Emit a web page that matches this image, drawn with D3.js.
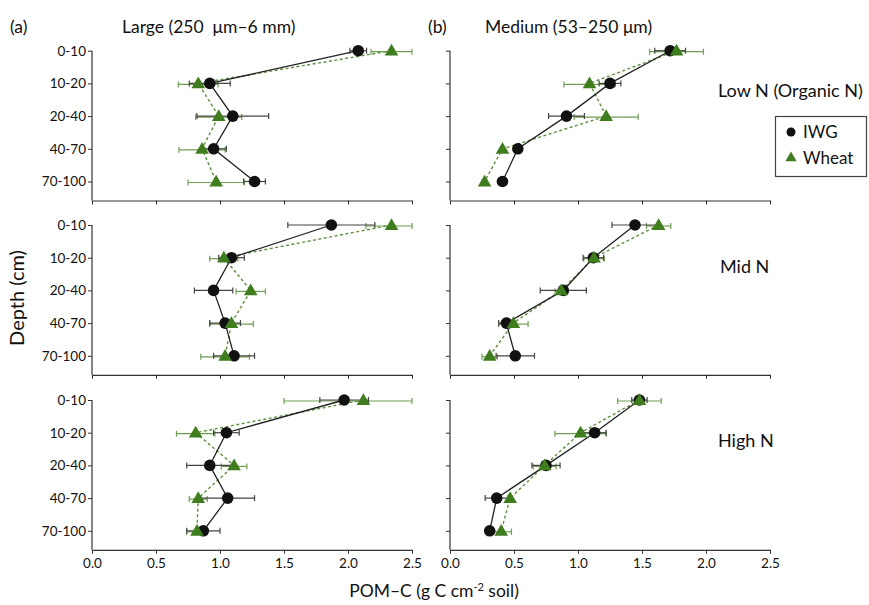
<!DOCTYPE html>
<html><head><meta charset="utf-8">
<script src="https://cdn.jsdelivr.net/npm/d3@7"></script>
<style>body{margin:0;background:#fff}svg{display:block}text{font-family:Lato,"Open Sans",sans-serif;fill:#111}</style>
</head><body><svg id="c" width="869" height="605"></svg>
<script>
const depths = ["0-10","10-20","20-40","40-70","70-100"];
const xTicks = [0,0.5,1,1.5,2,2.5];
const nLevels = ["Low N (Organic N)","Mid N","High N"];
const fractions = ["Large (250  μm–6 mm)","Medium (53–250 μm)"];
const panelLetters = ["(a)","(b)"];
const seriesNames = ["IWG","Wheat"];

// Large fraction, rows = Low, Mid, High N
const iwgLargeMean = [[2.08,0.92,1.10,0.95,1.27],[1.87,1.09,0.95,1.04,1.11],[1.97,1.05,0.92,1.06,0.87]];
const iwgLargeErr  = [[0.065,0.16,0.28,0.10,0.085],[0.34,0.10,0.15,0.12,0.16],[0.19,0.10,0.18,0.21,0.13]];
const wheatLargeMean = [[2.34,0.83,0.99,0.86,0.97],[2.34,1.03,1.24,1.09,1.04],[2.12,0.81,1.11,0.83,0.82]];
const wheatLargeErr  = [[0.16,0.155,0.18,0.18,0.22],[0.20,0.11,0.115,0.17,0.19],[0.62,0.15,0.10,0.07,0.08]];
// Medium fraction
const iwgMediumMean = [[1.72,1.25,0.91,0.53,0.41],[1.445,1.12,0.885,0.44,0.51],[1.48,1.13,0.75,0.365,0.31]];
const iwgMediumErr  = [[0.12,0.085,0.14,0.01,0.01],[0.18,0.08,0.18,0.06,0.15],[0.06,0.09,0.11,0.09,0.03]];
const wheatMediumMean = [[1.77,1.09,1.22,0.41,0.27],[1.63,1.125,0.87,0.495,0.31],[1.48,1.02,0.74,0.47,0.40]];
const wheatMediumErr  = [[0.21,0.20,0.25,0.01,0.02],[0.095,0.08,0.05,0.115,0.06],[0.17,0.20,0.09,0.01,0.08]];

const svg = d3.select("#c");
const colRange = [[92,412],[450,770]];
const rowTop = [50.7,225,400];
const rowStep = 32.7;
const axisGap = 19;
const green = "#3f7d1f", greenBar = "#6e9e52", greenLine = "#5f9140", black = "#111", blackBar = "#444";

const means = [[iwgLargeMean, wheatLargeMean],[iwgMediumMean, wheatMediumMean]];
const errs  = [[iwgLargeErr, wheatLargeErr],[iwgMediumErr, wheatMediumErr]];

const tri = d3.symbol().type(d3.symbolTriangle).size(80);

for (let c = 0; c < 2; c++) {
  const x = d3.scaleLinear().domain([0,2.5]).range(colRange[c]);
  for (let r = 0; r < 3; r++) {
    const y = d3.scalePoint().domain(depths).range([rowTop[r], rowTop[r] + 4*rowStep]);
    const yAxisBottom = rowTop[r] + 4*rowStep + axisGap;
    const g = svg.append("g");
    const ya = g.append("g").attr("transform",`translate(${colRange[c][0]},0)`)
      .call(d3.axisLeft(y).tickSize(4).tickSizeOuter(0).tickFormat(c===0 ? d=>d : ()=>""));
    ya.select(".domain").remove();
    ya.selectAll("line").attr("stroke","#333");
    ya.selectAll("text").attr("font-size",13.5).attr("x",-6).style("font-family","Lato,sans-serif");
    g.append("line").attr("x1",colRange[c][0]).attr("x2",colRange[c][0])
      .attr("y1",rowTop[r]).attr("y2",yAxisBottom).attr("stroke","#333").attr("stroke-width",1.2);
    const xa = g.append("g").attr("transform",`translate(0,${yAxisBottom})`)
      .call(d3.axisBottom(x).tickValues(xTicks).tickSize(4).tickSizeOuter(0)
        .tickFormat(r===2 ? d3.format(".1f") : ()=>""));
    xa.select(".domain").attr("stroke","#333").attr("stroke-width",1.2);
    xa.selectAll("line").attr("stroke","#333");
    xa.selectAll("text").attr("font-size",13.5).attr("dy","0.85em").style("font-family","Lato,sans-serif");

    for (let s = 1; s >= 0; s--) {
      const m = means[c][s][r], e = errs[c][s][r];
      const col = s===0 ? blackBar : greenBar;
      depths.forEach((d,i) => {
        const lo = Math.max(0, m[i]-e[i]), hi = Math.min(2.5, m[i]+e[i]);
        const yy = y(d) + (s===1 ? 1 : 0);
        g.append("line").attr("x1",x(lo)).attr("x2",x(hi)).attr("y1",yy).attr("y2",yy)
          .attr("stroke",col).attr("stroke-width",1.2);
        [lo,hi].forEach(v => g.append("line").attr("x1",x(v)).attr("x2",x(v))
          .attr("y1",yy-3).attr("y2",yy+3).attr("stroke",col).attr("stroke-width",1.2));
      });
    }
    const line = d3.line().x(d=>x(d[0])).y(d=>y(d[1]));
    g.append("path").datum(means[c][1][r].map((v,i)=>[v,depths[i]]))
      .attr("d",line).attr("fill","none").attr("stroke",greenLine).attr("stroke-width",1.4).attr("stroke-dasharray","3,2.5");
    g.append("path").datum(means[c][0][r].map((v,i)=>[v,depths[i]]))
      .attr("d",line).attr("fill","none").attr("stroke","#222").attr("stroke-width",1.3);
    means[c][0][r].forEach((v,i) => g.append("circle").attr("cx",x(v)).attr("cy",y(depths[i])).attr("r",5.8).attr("fill",black));
    means[c][1][r].forEach((v,i) => g.append("path").attr("d",tri)
      .attr("transform",`translate(${x(v)},${y(depths[i])+1})`).attr("fill",green));
  }
}

svg.append("text").attr("x",10).attr("y",33).attr("font-size",17.5).text(panelLetters[0]);
svg.append("text").attr("x",122).attr("y",33).attr("font-size",17.5).attr("xml:space","preserve").text(fractions[0]);
svg.append("text").attr("x",428).attr("y",33).attr("font-size",17.5).text(panelLetters[1]);
svg.append("text").attr("x",485).attr("y",33).attr("font-size",17.5).text(fractions[1]);

const nlPos = [[718,97],[720,273],[718,447]];
nLevels.forEach((t,i)=> svg.append("text").attr("x",nlPos[i][0]).attr("y",nlPos[i][1]).attr("font-size",18).text(t));

svg.append("rect").attr("x",775.5).attr("y",116.5).attr("width",91).attr("height",60).attr("fill","#fff").attr("stroke","#444").attr("stroke-width",1.2);
svg.append("circle").attr("cx",791).attr("cy",132).attr("r",4.5).attr("fill",black);
svg.append("text").attr("x",803).attr("y",138).attr("font-size",17).text(seriesNames[0]);
svg.append("path").attr("d",d3.symbol().type(d3.symbolTriangle).size(55)).attr("transform","translate(791,158)").attr("fill",green);
svg.append("text").attr("x",803).attr("y",164).attr("font-size",17).text(seriesNames[1]);

const xt = svg.append("text").attr("x",434).attr("y",597).attr("text-anchor","middle").attr("font-size",17.5);
xt.append("tspan").text("POM–C (g C cm");
xt.append("tspan").attr("dy",-6).attr("font-size",11).text("-2");
xt.append("tspan").attr("dy",6).text(" soil)");
svg.append("text").attr("transform","translate(24,298) rotate(-90)").attr("text-anchor","middle").attr("font-size",20).text("Depth (cm)");
</script></body></html>
